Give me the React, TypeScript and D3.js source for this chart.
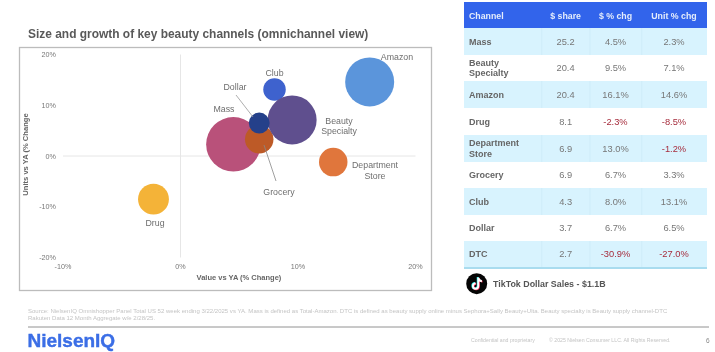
import React from "react";
import * as d3 from "d3";

const channels = ["Mass", "Beauty Specialty", "Amazon", "Drug", "Department Store", "Grocery", "Club", "Dollar", "DTC"];
const shares = [25.2, 20.4, 20.4, 8.1, 6.9, 6.9, 4.3, 3.7, 2.7];
const valueChg = [4.5, 9.5, 16.1, -2.3, 13.0, 6.7, 8.0, 6.7, -30.9];
const unitChg = [2.3, 7.1, 14.6, -8.5, -1.2, 3.3, 13.1, 6.5, -27.0];
const headers = ["Channel", "$ share", "$ % chg", "Unit % chg"];
const xTicks = [-10, 0, 10, 20];
const yTicks = [-20, -10, 0, 10, 20];
const drawOrder = ["Amazon", "Club", "Mass", "Grocery", "Beauty Specialty", "Dollar", "Department Store", "Drug"];

const colors: Record<string, string> = {
  Amazon: "#5b95db", Club: "#3e62ce", Mass: "#b9517a", Grocery: "#bd5a27",
  "Beauty Specialty": "#5f4f8e", Dollar: "#24408a", "Department Store": "#e0763c", Drug: "#f4b338",
};
const labelLayout: Record<string, { x: number; y: number; lines: string[] }> = {
  Amazon: { x: 397, y: 60, lines: ["Amazon"] },
  Club: { x: 274.5, y: 76, lines: ["Club"] },
  Dollar: { x: 235, y: 90, lines: ["Dollar"] },
  Mass: { x: 224, y: 112, lines: ["Mass"] },
  "Beauty Specialty": { x: 339, y: 123.5, lines: ["Beauty", "Specialty"] },
  "Department Store": { x: 375, y: 168, lines: ["Department", "Store"] },
  Grocery: { x: 279, y: 195, lines: ["Grocery"] },
  Drug: { x: 155, y: 226, lines: ["Drug"] },
};

const FONT = "'Liberation Sans', Arial, sans-serif";
const x = d3.scaleLinear().domain([-10, 20]).range([63, 415.5]);
const y = d3.scaleLinear().domain([-20, 20]).range([257.5, 54.5]);
const r = d3.scaleSqrt().domain([0, 20.4]).range([0, 24.5]);
const pct = (v: number) => d3.format(".1f")(v).replace("\u2212", "-") + "%";

const colX = [464, 541.7, 590, 641.7, 707];
const rowY = [2, 28, 55, 81, 108, 135, 162, 188, 215, 241, 267];
const rowText: Record<string, string[]> = {
  "Beauty Specialty": ["Beauty", "Specialty"],
  "Department Store": ["Department", "Store"],
};

export default function App() {
  return (
    <svg width={715} height={352} viewBox="0 0 715 352"
      style={{ position: "absolute", left: 0, top: 0, fontFamily: FONT, filter: "blur(0.35px)", background: "#fff" }}>
      <text x={28} y={37.5} fontSize={11.95} fontWeight={700} fill="#595959">Size and growth of key beauty channels (omnichannel view)</text>
      <rect x={19.5} y={47.5} width={412} height={243} fill="#fff" stroke="#bcbcbc" strokeWidth={1.3} />

      <line x1={x(-10)} x2={x(20)} y1={y(0)} y2={y(0)} stroke="#e6e6e6" />
      <line x1={x(0)} x2={x(0)} y1={y(20)} y2={y(-20)} stroke="#e6e6e6" />

      {yTicks.map((t) => (
        <text key={t} x={56} y={y(t) + 2.5} fontSize={7.2} textAnchor="end" fill="#777">{t}%</text>
      ))}
      {xTicks.map((t) => (
        <text key={t} x={x(t)} y={268.5} fontSize={7.2} textAnchor="middle" fill="#777">{t}%</text>
      ))}
      <text x={239} y={280} fontSize={7.5} fontWeight={700} textAnchor="middle" fill="#666">Value vs YA (% Change)</text>
      <text transform="translate(27.5,154.5) rotate(-90)" fontSize={7.6} fontWeight={700} textAnchor="middle" fill="#666">Units vs YA (% Change</text>

      {drawOrder.map((name) => {
        const i = channels.indexOf(name);
        return <circle key={name} cx={x(valueChg[i])} cy={y(unitChg[i])} r={r(shares[i])} fill={colors[name]} />;
      })}

      <line x1={236} y1={95} x2={253} y2={117} stroke="#999" strokeWidth={0.8} />
      <line x1={264} y1={145} x2={276} y2={181} stroke="#888" strokeWidth={0.8} />

      {Object.entries(labelLayout).map(([name, l]) => (
        <text key={name} x={l.x} y={l.y} fontSize={8.8} textAnchor="middle" fill="#6e6e6e">
          {l.lines.map((s, k) => <tspan key={k} x={l.x} dy={k ? 10.5 : 0}>{s}</tspan>)}
        </text>
      ))}

      <rect x={colX[0]} y={rowY[0]} width={colX[4] - colX[0]} height={rowY[1] - rowY[0]} fill="#3264eb" />
      {headers.map((h, c) => (
        <text key={h} x={c === 0 ? 469 : [565.6, 615.5, 674][c - 1]} y={18.5} fontSize={8.8} fontWeight={700}
          textAnchor={c === 0 ? "start" : "middle"} fill="#e4ecfb">{h}</text>
      ))}
      {channels.map((name, i) => {
        const top = rowY[i + 1], bot = rowY[i + 2], mid = (top + bot) / 2;
        const lines = rowText[name] || [name];
        const cells = [d3.format(".1f")(shares[i]), pct(valueChg[i]), pct(unitChg[i])];
        const vals = [shares[i], valueChg[i], unitChg[i]];
        return (
          <g key={name}>
            <rect x={colX[0]} y={top} width={colX[4] - colX[0]} height={bot - top} fill={i % 2 === 0 ? "#d8f3fe" : "#fff"} />
            {i % 2 === 0 && [1, 2, 3].map((c) => (
              <line key={c} x1={colX[c]} x2={colX[c]} y1={top} y2={bot} stroke="#c9e9f6" strokeWidth={0.6} />
            ))}
            <text x={469} y={mid + 3 - (lines.length - 1) * 5.3} fontSize={9} fontWeight={700} fill="#666">
              {lines.map((s, k) => <tspan key={k} x={469} dy={k ? 10.6 : 0}>{s}</tspan>)}
            </text>
            {cells.map((t, c) => (
              <text key={c} x={[565.6, 615.5, 674][c]} y={mid + 3.2} fontSize={9.3} textAnchor="middle"
                fill={vals[c] < 0 ? "#a62c3c" : "#777"}>{t}</text>
            ))}
          </g>
        );
      })}
      <rect x={colX[0]} y={267} width={colX[4] - colX[0]} height={2} fill="#a9dcef" />

      <circle cx={476.7} cy={283.7} r={10.5} fill="#050505" />
      <g fill="none" strokeWidth={1.9}>
        <path d="M478.3 277.5v8.6a2.7 2.7 0 1 1-2.7-2.7M478.3 278c.3 1.9 1.6 3 3.6 3.2" stroke="#25f4ee" transform="translate(-0.6,-0.4)" />
        <path d="M478.3 277.5v8.6a2.7 2.7 0 1 1-2.7-2.7M478.3 278c.3 1.9 1.6 3 3.6 3.2" stroke="#fe2c55" transform="translate(0.6,0.4)" />
        <path d="M478.3 277.5v8.6a2.7 2.7 0 1 1-2.7-2.7M478.3 278c.3 1.9 1.6 3 3.6 3.2" stroke="#fff" />
      </g>
      <text x={493} y={287} fontSize={8.9} fontWeight={700} fill="#555">TikTok Dollar Sales - $1.1B</text>

      <text x={28} y={313} fontSize={6.03} fill="#c4c4c4">Source: NielsenIQ Omnishopper Panel Total US 52  week ending 3/22/2025 vs YA. Mass is defined as Total-Amazon. DTC is defined as beauty supply online minus Sephora+Sally Beauty+Ulta. Beauty specialty is Beauty supply channel-DTC</text>
      <text x={28} y={320} fontSize={6.03} fill="#c4c4c4">Rakuten Data 12 Month Aggregate w/e 2/28/25.</text>
      <line x1={28} x2={709} y1={327} y2={327} stroke="#777" strokeWidth={0.8} />
      <text x={27.5} y={346.5} fontSize={19} fontWeight={700} fill="#3b6ee6" stroke="#3b6ee6" strokeWidth={0.4}>NielsenIQ</text>
      <text x={471} y={342} fontSize={5.2} fill="#c4c4c4">Confidential and proprietary</text>
      <text x={549} y={342} fontSize={5.2} fill="#c4c4c4">© 2025 Nielsen Consumer LLC. All Rights Reserved.</text>
      <text x={706} y={343} fontSize={6.5} fill="#888">6</text>
    </svg>
  );
}
